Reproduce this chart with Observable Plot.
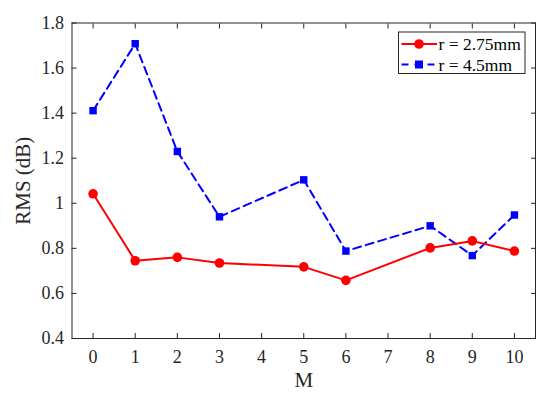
<!DOCTYPE html>
<html>
<head>
<meta charset="utf-8">
<script src="https://cdn.jsdelivr.net/npm/d3@7"></script>
<script src="https://cdn.jsdelivr.net/npm/@observablehq/plot@0.6"></script>
<style>
  body { margin: 0; background: #fff; }
  #chart svg { display: block; }
  #chart svg text { font-family: "Liberation Serif", "Times New Roman", serif !important; }
  #chart svg g[aria-label$="tick label"] text { font-size: 18px !important; }
  #chart svg g[aria-label$="axis label"] text { font-size: 21px !important; }
</style>
</head>
<body>
<div id="chart"></div>
<script>
const M = [0, 1, 2, 3, 5, 6, 8, 9, 10];
const rms275 = [1.042, 0.745, 0.76, 0.735, 0.718, 0.658, 0.802, 0.833, 0.788];
const rms45 = [1.411, 1.708, 1.23, 0.94, 1.104, 0.788, 0.90, 0.768, 0.948];
const seriesNames = ["r = 2.75mm", "r = 4.5mm"];
const xTicks = [0, 1, 2, 3, 4, 5, 6, 7, 8, 9, 10];
const yTicks = [0.4, 0.6, 0.8, 1.0, 1.2, 1.4, 1.6, 1.8];

const red = M.map((m, i) => ({M: m, v: rms275[i]}));
const blue = M.map((m, i) => ({M: m, v: rms45[i]}));
const axisColor = "#262626";
const fmtY = d => (d === 1 ? "1" : d3.format(".1f")(d));
const serif = "'Liberation Serif', 'Times New Roman', serif";

const plot = Plot.plot({
  width: 550,
  height: 397,
  marginLeft: 71.5,
  marginRight: 15,
  marginTop: 22.5,
  marginBottom: 59,
  style: {fontFamily: serif, fontSize: "18px", color: axisColor, background: "#fff"},
  x: {domain: [-0.5, 10.5]},
  y: {domain: [0.4, 1.8]},
  marks: [
    Plot.frame({stroke: axisColor, strokeWidth: 1}),
    Plot.axisX(xTicks, {anchor: "bottom", tickSize: -5, tickPadding: 17, label: "M", labelAnchor: "center", labelArrow: "none", labelOffset: 48, fontSize: 18, fontFamily: serif}),
    Plot.axisX(xTicks, {anchor: "top", tickSize: -5, tickFormat: () => "", label: null}),
    Plot.axisY(yTicks, {anchor: "left", tickSize: -5, tickPadding: 13, tickFormat: fmtY, label: "RMS (dB)", labelAnchor: "center", labelArrow: "none", labelOffset: 57, fontSize: 18, fontFamily: serif}),
    Plot.axisY(yTicks, {anchor: "right", tickSize: -5, tickFormat: () => "", label: null}),
    Plot.line(blue, {x: "M", y: "v", stroke: "#0000ff", strokeWidth: 2, strokeDasharray: "8,5"}),
    Plot.line(red, {x: "M", y: "v", stroke: "#ff0000", strokeWidth: 2}),
    Plot.dot(blue, {x: "M", y: "v", symbol: "square", r: 4.2, fill: "#0000ff"}),
    Plot.dot(red, {x: "M", y: "v", r: 4.8, fill: "#ff0000"})
  ]
});

const svg = d3.select(plot);
svg.selectAll("text").attr("font-family", serif).style("font-family", serif);
svg.selectAll("g[aria-label$='tick label']").attr("font-size", 18).selectAll("text").attr("font-size", 18).style("font-size", "18px");
svg.selectAll("g[aria-label$='axis label']").attr("font-size", 21).selectAll("text").attr("font-size", 21).style("font-size", "21px");

// legend
const lg = svg.append("g").attr("font-family", serif).attr("font-size", "17.5px").attr("text-anchor", "start");
lg.append("rect").attr("x", 398.5).attr("y", 32).attr("width", 126.5).attr("height", 41.5)
  .attr("fill", "#fff").attr("stroke", axisColor).attr("stroke-width", 1);
const rows = [
  {name: seriesNames[0], color: "#ff0000", dash: null, sym: "circle", y: 44},
  {name: seriesNames[1], color: "#0000ff", dash: "7,6", sym: "square", y: 64.5}
];
rows.forEach(r => {
  lg.append("line").attr("x1", 401.5).attr("x2", 437).attr("y1", r.y).attr("y2", r.y)
    .attr("stroke", r.color).attr("stroke-width", 2).attr("stroke-dasharray", r.dash);
  if (r.sym === "circle") lg.append("circle").attr("cx", 419).attr("cy", r.y).attr("r", 4.8).attr("fill", r.color);
  else lg.append("rect").attr("x", 415).attr("y", r.y - 4).attr("width", 8).attr("height", 8).attr("fill", r.color);
  lg.append("text").attr("x", 438.5).attr("y", r.y).attr("dy", "0.35em").attr("text-anchor", "start").attr("fill", "#000").text(r.name);
});

document.getElementById("chart").appendChild(plot);
</script>
</body>
</html>
